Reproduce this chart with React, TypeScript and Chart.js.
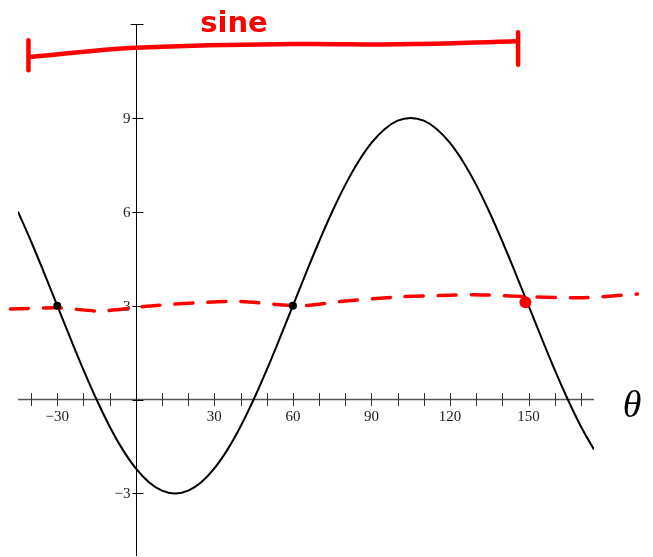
import React, { useEffect, useRef } from "react";
import { Chart, registerables } from "chart.js";

Chart.register(...registerables);

// θ in degrees and the sine curve values
const thetaDeg = [
  -45, -40, -35, -30, -25, -20, -15, -10, -5, 0, 5, 10, 15, 20, 25, 30, 35, 40, 45, 50, 55,
  60, 65, 70, 75, 80, 85, 90, 95, 100, 105, 110, 115, 120, 125, 130, 135, 140, 145, 150,
  155, 160, 165, 170, 175,
];
const sineValues = [
  6.0, 5.05, 4.04, 3.0, 1.96, 0.95, 0.0, -0.86, -1.6, -2.2, -2.64, -2.91, -3.0, -2.91,
  -2.64, -2.2, -1.6, -0.86, 0.0, 0.95, 1.96, 3.0, 4.04, 5.05, 6.0, 6.86, 7.6, 8.2, 8.64,
  8.91, 9.0, 8.91, 8.64, 8.2, 7.6, 6.86, 6.0, 5.05, 4.04, 3.0, 1.96, 0.95, 0.0, -0.86, -1.6,
];

// axis ticks
const xMinorTicks = [-40, -30, -20, -10, 10, 20, 30, 40, 50, 60, 70, 80, 90, 100, 110, 120, 130, 140, 150, 160, 170];
const xTickLabels = [-30, 30, 60, 90, 120, 150];
const yTicks = [-3, 0, 3, 6, 9, 12];
const yTickLabels = [-3, 3, 6, 9];

// red hand-drawn dashed guide at y ≈ 3
const guideTheta = [-47.9, -30, -13.6, 5.5, 24.6, 39.8, 62.7, 78, 100.9, 119.9, 129.4, 142.8, 169.5, 191.6];
const guideValues = [2.89, 2.93, 2.83, 2.99, 3.1, 3.13, 3.0, 3.13, 3.28, 3.33, 3.35, 3.31, 3.25, 3.37];

// red hand-drawn bracket ("sine" period)
const bracketTheta = [-41, 0, 60, 101, 146];
const bracketValues = [10.94, 11.24, 11.36, 11.35, 11.45];
const bracketLeftCapTheta = [-41, -41];
const bracketLeftCapValues = [10.52, 11.48];
const bracketRightCapTheta = [146, 146];
const bracketRightCapValues = [10.7, 11.74];

// marked points
const blackDotTheta = [-30, 60];
const blackDotValues = [3, 3];
const redDotTheta = [148.8];
const redDotValues = [3.11];

const toXY = (xs: number[], ys: number[]) => xs.map((x, i) => ({ x, y: ys[i] }));

const fmt = (v: number) => (v < 0 ? "\u2212" + Math.abs(v) : String(v));

const axesPlugin = {
  id: "customAxes",
  beforeDatasetsDraw(chart: any) {
    const ctx = chart.ctx;
    const xs = chart.scales.x;
    const ys = chart.scales.y;
    const x0 = xs.getPixelForValue(0);
    const y0 = ys.getPixelForValue(0);
    ctx.save();
    // x axis
    ctx.strokeStyle = "#555";
    ctx.lineWidth = 1.5;
    ctx.beginPath();
    ctx.moveTo(xs.getPixelForValue(-45), y0);
    ctx.lineTo(xs.getPixelForValue(175), y0);
    ctx.stroke();
    ctx.lineWidth = 1;
    ctx.strokeStyle = "#333";
    xMinorTicks.forEach((t) => {
      const px = Math.round(xs.getPixelForValue(t)) + 0.5;
      ctx.beginPath();
      ctx.moveTo(px, y0 - 6.5);
      ctx.lineTo(px, y0 + 6.5);
      ctx.stroke();
    });
    // y axis
    ctx.strokeStyle = "#000";
    ctx.lineWidth = 1;
    const ax = Math.round(x0) + 0.5;
    ctx.beginPath();
    ctx.moveTo(ax, ys.getPixelForValue(12));
    ctx.lineTo(ax, ys.getPixelForValue(-5));
    ctx.stroke();
    yTicks.forEach((t) => {
      const py = Math.round(ys.getPixelForValue(t)) + 0.5;
      ctx.beginPath();
      ctx.moveTo(ax - (t === 12 ? 6 : 4), py);
      ctx.lineTo(ax + 7, py);
      ctx.stroke();
    });
    // labels
    ctx.fillStyle = "#222";
    ctx.font = '15px "Liberation Serif"';
    ctx.textAlign = "center";
    ctx.textBaseline = "middle";
    xTickLabels.forEach((t) => {
      ctx.fillText(fmt(t), xs.getPixelForValue(t), y0 + 18);
    });
    ctx.textAlign = "right";
    yTickLabels.forEach((t) => {
      ctx.fillText(fmt(t), ax - 6, ys.getPixelForValue(t) + 1);
    });
    ctx.restore();
  },
  afterDraw(chart: any) {
    const ctx = chart.ctx;
    const xs = chart.scales.x;
    const ys = chart.scales.y;
    ctx.save();
    // theta axis title
    ctx.fillStyle = "#000";
    ctx.font = 'italic 38px "Liberation Serif"';
    ctx.textAlign = "center";
    ctx.textBaseline = "alphabetic";
    ctx.fillText("\u03B8", xs.getPixelForValue(175) + 38, ys.getPixelForValue(0) + 17);
    // hand-written "sine"
    ctx.fillStyle = "rgb(255,0,0)";
    ctx.font = 'bold 29px "DejaVu Sans"';
    ctx.fillText("sine", xs.getPixelForValue(37.5), ys.getPixelForValue(12) + 8);
    ctx.restore();
  },
};

export default function App() {
  const ref = useRef<HTMLCanvasElement | null>(null);
  useEffect(() => {
    if (!ref.current) return;
    const red = "rgb(255,0,0)";
    const chart = new Chart(ref.current, {
      type: "scatter",
      data: {
        datasets: [
          {
            label: "sine",
            data: toXY(thetaDeg, sineValues),
            showLine: true,
            borderColor: "#000",
            borderWidth: 2,
            pointRadius: 0,
            tension: 0.4,
            order: 6,
          },
          {
            label: "guide",
            data: toXY(guideTheta, guideValues),
            showLine: true,
            borderColor: red,
            borderWidth: 3.5,
            borderDash: [18, 15],
            borderCapStyle: "round",
            pointRadius: 0,
            tension: 0.3,
            clip: false,
            order: 5,
          },
          {
            label: "bracket",
            data: toXY(bracketTheta, bracketValues),
            showLine: true,
            borderColor: red,
            borderWidth: 4.5,
            borderCapStyle: "round",
            pointRadius: 0,
            tension: 0.4,
            clip: false,
            order: 3,
          },
          {
            label: "bracketL",
            data: toXY(bracketLeftCapTheta, bracketLeftCapValues),
            showLine: true,
            borderColor: red,
            borderWidth: 4.5,
            borderCapStyle: "round",
            pointRadius: 0,
            clip: false,
            order: 3,
          },
          {
            label: "bracketR",
            data: toXY(bracketRightCapTheta, bracketRightCapValues),
            showLine: true,
            borderColor: red,
            borderWidth: 4.5,
            borderCapStyle: "round",
            pointRadius: 0,
            clip: false,
            order: 3,
          },
          {
            label: "blackDots",
            data: toXY(blackDotTheta, blackDotValues),
            showLine: false,
            pointRadius: 4,
            pointBackgroundColor: "#000",
            pointBorderWidth: 0,
            order: 2,
          },
          {
            label: "redDot",
            data: toXY(redDotTheta, redDotValues),
            showLine: false,
            pointRadius: 6,
            pointBackgroundColor: red,
            pointBorderWidth: 0,
            order: 1,
          },
        ],
      },
      options: {
        responsive: false,
        animation: false,
        devicePixelRatio: 1,
        layout: { autoPadding: false, padding: { left: 18, right: 59, top: 24, bottom: 1 } },
        plugins: { legend: { display: false }, tooltip: { enabled: false } },
        scales: {
          x: { type: "linear", min: -45, max: 175, display: false },
          y: { type: "linear", min: -5, max: 12, display: false },
        },
      },
      plugins: [axesPlugin],
    });
    return () => chart.destroy();
  }, []);
  return (
    <div style={{ position: "fixed", left: 0, top: 0, width: 653, height: 557, background: "#fff" }}>
      <canvas ref={ref} width={653} height={557} />
    </div>
  );
}
